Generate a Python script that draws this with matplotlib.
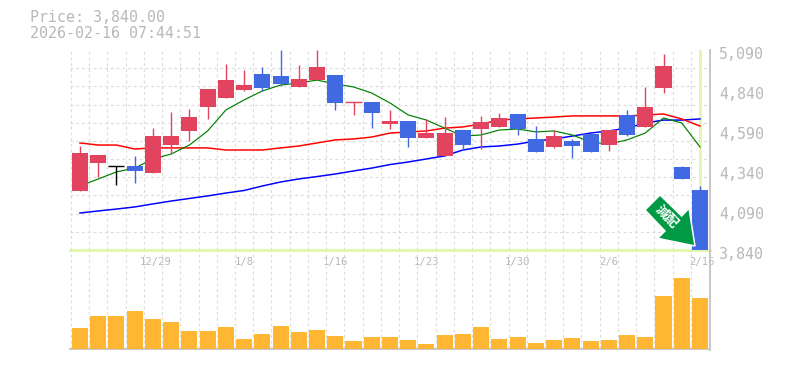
import matplotlib
matplotlib.use("Agg")
import matplotlib.pyplot as plt
import numpy as np
from matplotlib.patches import Polygon
from matplotlib.transforms import Affine2D, ScaledTranslation

opens = [4209, 4384, 4365, 4365, 4321, 4496, 4584, 4734, 4790, 4840, 4940, 4928, 4859, 4902, 4934, 4765, 4765, 4628,
         4646, 4540, 4428, 4590, 4596, 4609, 4690, 4534, 4484, 4521, 4565, 4496, 4684, 4609, 4852, 4359, 4215]
highs = [4490, 4434, 4365, 4428, 4602, 4702, 4721, 4846, 5002, 4965, 4984, 5090, 4996, 5090, 4934, 4765, 4765, 4715,
         4646, 4659, 4671, 4590, 4678, 4696, 4690, 4615, 4590, 4534, 4565, 4590, 4715, 4859, 5065, 4365, 4240]
lows = [4209, 4296, 4246, 4259, 4321, 4446, 4521, 4659, 4790, 4834, 4834, 4865, 4859, 4902, 4715, 4684, 4602, 4596,
        4484, 4540, 4428, 4465, 4471, 4609, 4559, 4452, 4478, 4415, 4452, 4459, 4552, 4609, 4821, 4284, 3840]
closes = [4446, 4434, 4365, 4334, 4552, 4552, 4671, 4846, 4902, 4871, 4852, 4878, 4909, 4984, 4759, 4765, 4696, 4646,
          4540, 4571, 4571, 4496, 4640, 4665, 4596, 4452, 4552, 4490, 4452, 4590, 4559, 4734, 4990, 4284, 3840]
kinds = list("rrkbrrrrrrbbrrbrbrbrrbrrbbrbbrbrrbb")
ma_green = [4240, 4284, 4328, 4352, 4409, 4440, 4496, 4584, 4715, 4778, 4834, 4871, 4884, 4902, 4878, 4859, 4821, 4759,
            4684, 4652, 4602, 4552, 4559, 4590, 4596, 4578, 4584, 4559, 4515, 4502, 4528, 4571, 4665, 4634, 4484]
ma_red = [4509, 4496, 4496, 4471, 4478, 4478, 4478, 4478, 4465, 4465, 4465, 4478, 4490, 4509, 4528, 4534, 4546, 4571,
          4578, 4584, 4602, 4609, 4628, 4652, 4659, 4665, 4671, 4678, 4678, 4678, 4678, 4684, 4690, 4659, 4615]
ma_blue = [4071, 4084, 4096, 4109, 4128, 4146, 4162, 4178, 4196, 4212, 4240, 4265, 4284, 4299, 4315, 4334, 4352, 4374,
           4390, 4409, 4428, 4465, 4484, 4490, 4502, 4521, 4534, 4552, 4571, 4584, 4602, 4634, 4652, 4652, 4659]
volumes = [21, 33, 33, 38, 30, 27, 18, 18, 22, 10, 15, 23, 17, 19, 13, 8, 12, 12, 9, 5, 14, 15, 22, 10, 12, 6, 9, 11,
           8, 9, 14, 12, 53, 71, 51]
price_ticks = [3840, 4090, 4340, 4590, 4840, 5090]
price_labels = ["3,840", "4,090", "4,340", "4,590", "4,840", "5,090"]
date_pos = [4.17, 9, 14, 19, 24, 29, 34.1]
date_labels = ["12/29", "1/8", "1/16", "1/23", "1/30", "2/6", "2/16"]
last_price = 3840
title_lines = ["Price: 3,840.00", "2026-02-16 07:44:51"]
badge_text = "減配"

W, H = 785, 370
MONO = "DejaVu Sans Mono"
C_UP, C_DOWN, C_DOJI = "#E2445F", "#4169E1", "#000000"
colors = {"r": C_UP, "b": C_DOWN, "k": C_DOJI}
GRID = "#DDDDDD"
FRAME = "#C8C8C8"
TXT = "#B8B8B8"
MARK = "#E4F7B0"
px = 0.72

fig = plt.figure(figsize=(W / 100, H / 100), dpi=100, facecolor="white")
L, R = 70 / W, 710 / W
ax = fig.add_axes([L, 1 - 250 / H, R - L, 200 / H])
av = fig.add_axes([L, 1 - 349 / H, R - L, 99 / H])
x = np.arange(len(opens))
xlim = (-0.548, 34.55)
edges = np.arange(len(opens) + 1) - 0.5

for a in (ax, av):
    a.set_xlim(*xlim)
    a.set_facecolor("none")
    for s in a.spines.values():
        s.set_visible(False)
    a.set_xticks(edges, minor=True)
    a.grid(True, which="minor", axis="x", color=GRID, lw=1.2 * px, ls=(0, (2.4, 2.4)), zorder=0)
    a.tick_params(which="both", length=0)
    a.set_axisbelow(True)

# price panel
ax.set_ylim(3840, 5090)
ax.set_yticks(np.linspace(3840, 5090, 12), minor=True)
ax.grid(True, which="minor", axis="y", color=GRID, lw=1.2 * px, ls=(0, (2.4, 2.4)), zorder=0)
ax.set_xticks([])
ax.yaxis.tick_right()
ax.set_yticks(price_ticks, price_labels, family=MONO, fontsize=10.8, color=TXT)
ax.tick_params(axis="y", which="major", pad=6.5)
shift = ScaledTranslation(0, -2.5 / 72, fig.dpi_scale_trans)
for lab in ax.get_yticklabels():
    lab.set_transform(lab.get_transform() + shift)

ax.axhline(last_price, color=MARK, lw=3 * px, clip_on=False, zorder=1)
ax.axvline(x[-1], color=MARK, lw=3 * px, zorder=1)

ax.plot(x, ma_blue, color="#0000FF", lw=1.5 * px, zorder=2)
ax.plot(x, ma_red, color="#FF0000", lw=1.5 * px, zorder=2)
ax.plot(x, ma_green, color="#008000", lw=1.2 * px, zorder=2)

bar_colors = [colors[k] for k in kinds]
ax.vlines(x, lows, highs, colors=bar_colors, lw=1.4 * px, zorder=3)
bottoms = np.minimum(opens, closes)
heights = np.abs(np.array(opens) - np.array(closes))
ax.bar(x, heights, bottom=bottoms, width=0.88, color=bar_colors, lw=0, zorder=4, clip_on=False)
for i in x:
    if heights[i] == 0:
        ax.hlines(opens[i], i - 0.44, i + 0.44, colors=bar_colors[i], lw=1.4 * px, zorder=4)

# volume panel
av.set_ylim(0, 99)
av.bar(x, volumes, width=0.88, color="#FFB733", lw=0, zorder=3)
av.set_yticks([])
av.xaxis.tick_top()
av.set_xticks(date_pos, date_labels, family=MONO, fontsize=7.6, color=TXT)
av.tick_params(axis="x", which="major", pad=-12.5)
av.spines["bottom"].set_visible(True)
av.spines["bottom"].set_color(FRAME)
av.spines["bottom"].set_linewidth(2 * px)

# right frame across both panels
to_fig = Affine2D().scale(1 / W, -1 / H).translate(0, 1) + fig.transFigure
fig.add_artist(plt.Line2D([710, 710], [50, 350], transform=to_fig, color=FRAME, lw=2 * px))

# badge arrow
badge = [(645, 210), (660, 195), (681.7, 216), (689, 208.3), (695, 246), (657.7, 238.3), (665, 231)]
fig.add_artist(Polygon(badge, closed=True, transform=to_fig, facecolor="#009944",
                       edgecolor="white", lw=1.5 * px, zorder=6))
fig.text(666.5 / W, 1 - 217 / H, badge_text, family=["Noto Sans CJK JP", "DejaVu Sans"], fontsize=9.5,
         fontweight="bold", color="white", rotation=-45, rotation_mode="anchor", ha="center", va="center", zorder=7)

fig.text(30 / W, 1 - 18 / H, title_lines[0], family=MONO, fontsize=10.8, color=TXT, va="center")
fig.text(30 / W, 1 - 33 / H, title_lines[1], family=MONO, fontsize=10.8, color=TXT, va="center")

fig.savefig("out.png", dpi=100, facecolor="white")
